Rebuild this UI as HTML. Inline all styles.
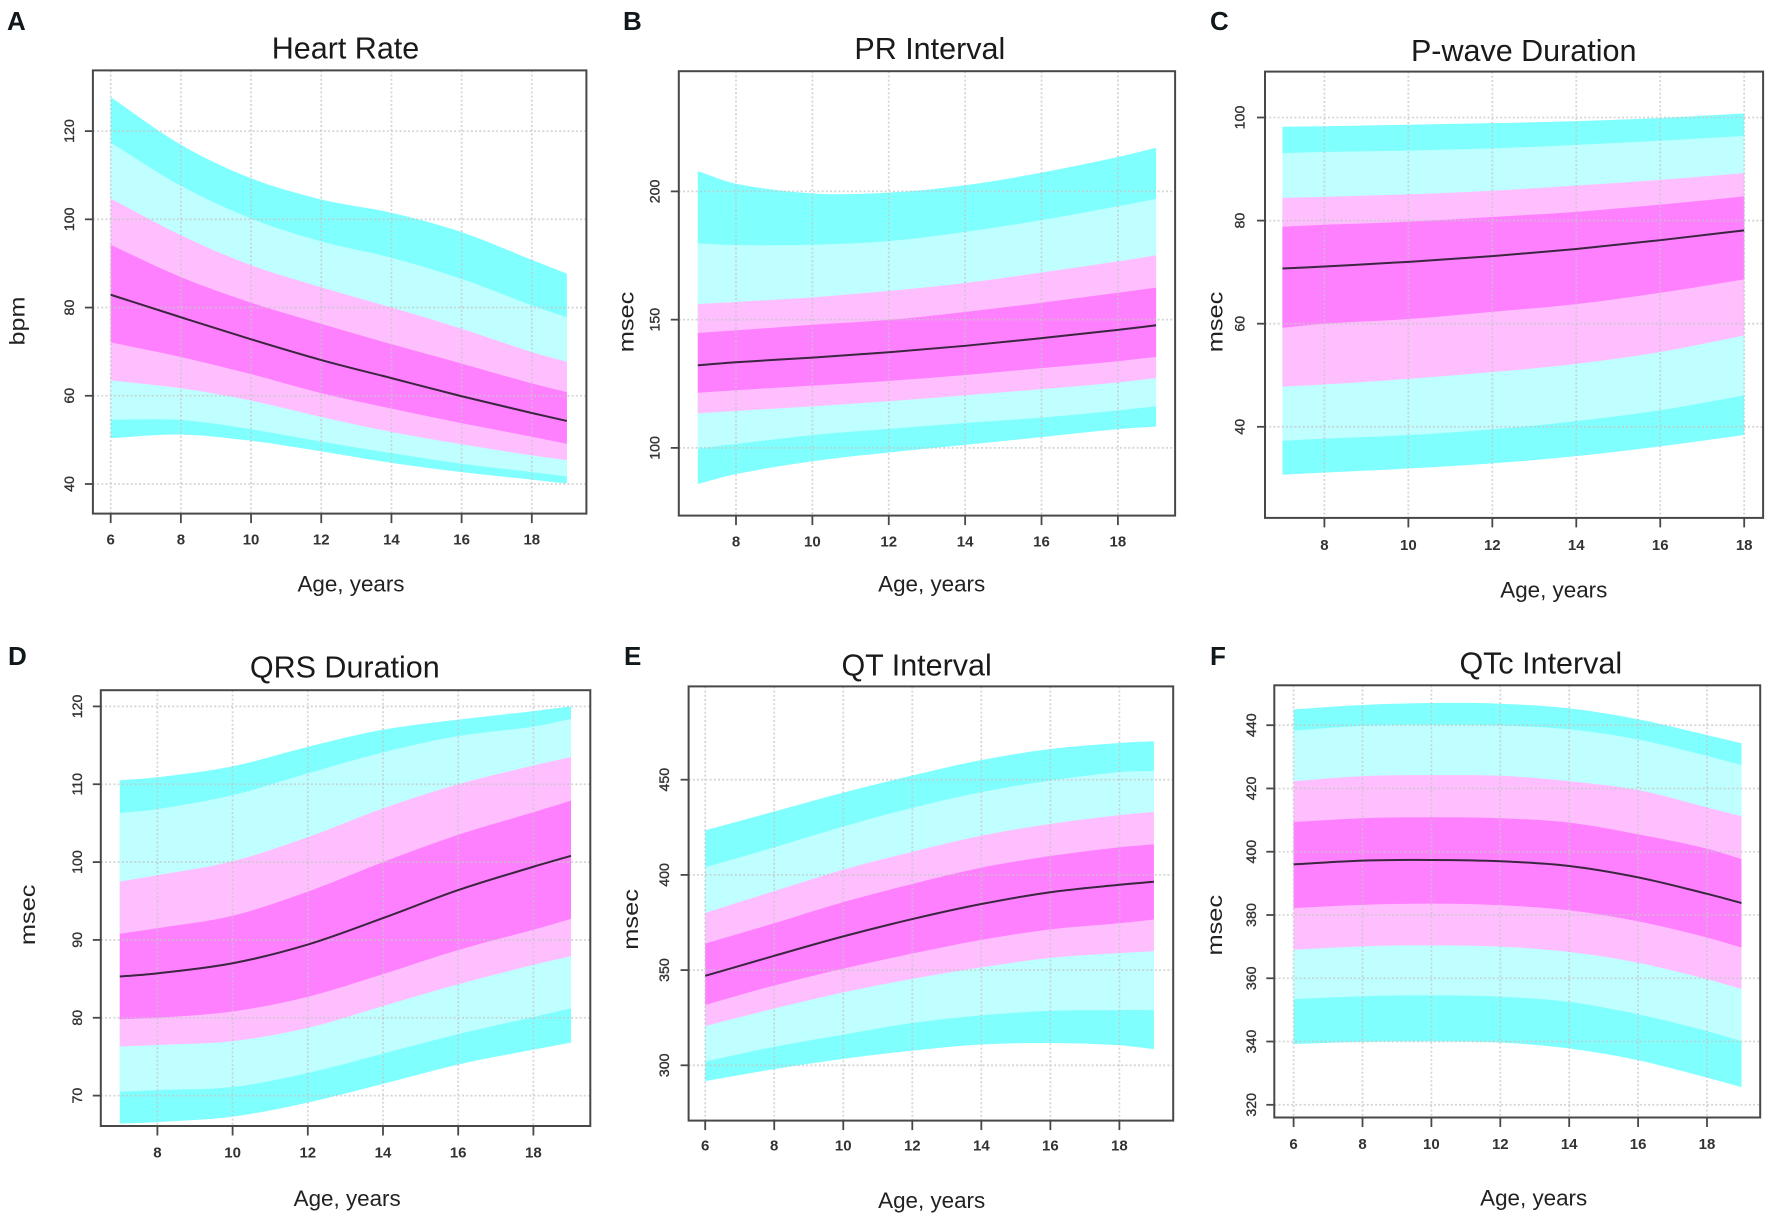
<!DOCTYPE html>
<html lang="en">
<head>
<meta charset="utf-8">
<title>Age-related ECG percentile charts</title>
<style>
html,body{margin:0;padding:0;background:#fff;}
svg{display:block;font-family:"Liberation Sans",Arial,sans-serif;}
.letter{font-size:26px;font-weight:700;fill:#10181c;}
.title{font-size:30.5px;fill:#1a1a1a;text-anchor:middle;}
.axis-title{font-size:21.5px;fill:#222;text-anchor:middle;}
.x-title{font-size:22.4px;}
.xt{font-size:15px;font-weight:700;fill:#333;text-anchor:middle;}
.yt{font-size:14.2px;fill:#333;stroke:#333;stroke-width:.35px;text-anchor:middle;}
</style>
</head>
<body>
<svg id="figure" width="1772" height="1222" viewBox="0 0 1772 1222" xmlns="http://www.w3.org/2000/svg">
  <rect width="1772" height="1222" fill="#fff"/>

  <g id="panel-a">
    <text class="letter" x="7" y="30">A</text>
    <text class="title" x="345.5" y="58.4">Heart Rate</text>
    <text class="axis-title x-title" x="351" y="591.4">Age, years</text>
    <text class="axis-title" transform="translate(24.5 321) rotate(-90) scale(1.17 1)">bpm</text>
  </g>
  <g id="panel-b">
    <text class="letter" x="623" y="30">B</text>
    <text class="title" x="929.8" y="59.1">PR Interval</text>
    <text class="axis-title x-title" x="931.7" y="591.4">Age, years</text>
    <text class="axis-title" transform="translate(633.3 322) rotate(-90) scale(1.18 1)">msec</text>
  </g>
  <g id="panel-c">
    <text class="letter" x="1210" y="30">C</text>
    <text class="title" x="1523.7" y="61.1">P-wave Duration</text>
    <text class="axis-title x-title" x="1553.8" y="597.3">Age, years</text>
    <text class="axis-title" transform="translate(1222.7 322) rotate(-90) scale(1.18 1)">msec</text>
  </g>
  <g id="panel-d">
    <text class="letter" x="8" y="665">D</text>
    <text class="title" x="344.8" y="677.6">QRS Duration</text>
    <text class="axis-title x-title" x="347.2" y="1206.2">Age, years</text>
    <text class="axis-title" transform="translate(34.8 914.8) rotate(-90) scale(1.18 1)">msec</text>
  </g>
  <g id="panel-e">
    <text class="letter" x="624" y="665">E</text>
    <text class="title" x="916.6" y="675.7">QT Interval</text>
    <text class="axis-title x-title" x="931.7" y="1208">Age, years</text>
    <text class="axis-title" transform="translate(638.2 919.4) rotate(-90) scale(1.18 1)">msec</text>
  </g>
  <g id="panel-f">
    <text class="letter" x="1210" y="665">F</text>
    <text class="title" x="1540.8" y="673.7">QTc Interval</text>
    <text class="axis-title x-title" x="1533.7" y="1205.4">Age, years</text>
    <text class="axis-title" transform="translate(1221.9 925.2) rotate(-90) scale(1.18 1)">msec</text>
  </g>
</svg>

<script>
// ---------- Heart rate ----------
const hrAges   = [6,8,10,12,14,16,18,19];
const hrXTicks = [6,8,10,12,14,16,18];
const hrYTicks = [40,60,80,100,120];
const hrTop    = [127.7,116.9,109.3,104.5,101.5,97.1,90.8,87.7];
const hrUpper2 = [117.4,107.6,100.2,95.0,91.3,86.5,80.5,77.8];
const hrUpper3 = [104.7,96.4,89.6,84.6,80.0,75.2,69.9,67.7];
const hrUpper4 = [94.2,86.9,81.1,76.3,71.7,67.3,62.8,60.8];
const hrMedian = [82.9,77.8,72.8,68.1,64.0,59.9,56.1,54.3];
const hrLower4 = [72.1,68.8,64.9,60.6,57.1,53.8,50.7,49.1];
const hrLower3 = [63.5,61.7,58.9,55.2,51.8,49.0,46.5,45.4];
const hrLower2 = [54.6,54.5,52.4,49.6,47.0,44.6,42.7,41.7];
const hrBottom = [50.4,51.2,49.8,47.4,44.8,42.7,41.0,40.1];

// ---------- PR interval ----------
const prAges   = [7,8,10,12,14,16,18,19];
const prXTicks = [8,10,12,14,16,18];
const prYTicks = [100,150,200];
const prTop    = [207.9,203.0,199.2,199.5,202.4,207.3,213.4,217.0];
const prUpper2 = [179.7,179.1,179.2,180.6,184.2,188.8,194.2,197.1];
const prUpper3 = [156.1,156.9,158.7,161.2,164.3,168.4,172.7,175.1];
const prUpper4 = [144.8,145.8,148.0,149.9,153.0,156.6,160.5,162.5];
const prMedian = [132.2,133.4,135.2,137.3,139.8,142.8,146.0,147.8];
const prLower4 = [121.5,122.5,124.3,126.1,128.4,131.1,133.8,135.5];
const prLower3 = [113.5,114.4,116.2,118.2,120.5,122.9,125.5,127.2];
const prLower2 = [99.7,101.5,105.0,107.4,109.7,111.8,114.6,116.2];
const prBottom = [85.9,89.8,94.8,98.2,101.2,104.2,107.3,108.3];

// ---------- P-wave duration ----------
const pwAges   = [7,8,10,12,14,16,18];
const pwXTicks = [8,10,12,14,16,18];
const pwYTicks = [40,60,80,100];
const pwTop    = [98.2,98.3,98.6,98.9,99.3,99.9,100.8];
const pwUpper2 = [93.1,93.3,93.6,94.0,94.7,95.5,96.4];
const pwUpper3 = [84.4,84.6,85.1,85.8,86.8,87.9,89.2];
const pwUpper4 = [78.8,79.2,79.8,80.7,81.7,83.1,84.7];
const pwMedian = [70.7,71.1,72.0,73.1,74.5,76.2,78.1];
const pwLower4 = [59.2,60.0,60.9,62.3,63.8,66.0,68.6];
const pwLower3 = [47.8,48.2,49.3,50.6,52.2,54.5,57.7];
const pwLower2 = [37.3,37.7,38.4,39.5,41.1,43.2,46.1];
const pwBottom = [30.7,31.1,31.9,32.9,34.3,36.2,38.4];

// ---------- QRS duration ----------
const qrsAges   = [7,8,10,12,14,16,18,19];
const qrsXTicks = [8,10,12,14,16,18];
const qrsYTicks = [70,80,90,100,110,120];
const qrsTop    = [110.5,110.9,112.3,114.8,117.0,118.3,119.4,120.0];
const qrsUpper2 = [106.3,106.8,108.6,111.4,114.1,116.2,117.4,118.4];
const qrsUpper3 = [97.5,98.3,100.1,103.2,106.9,110.0,112.4,113.5];
const qrsUpper4 = [90.8,91.5,93.1,96.2,100.0,103.5,106.4,107.9];
const qrsMedian = [85.3,85.7,87.0,89.4,92.8,96.4,99.4,100.8];
const qrsLower4 = [79.8,80.0,80.8,82.7,85.6,88.7,91.3,92.7];
const qrsLower3 = [76.3,76.5,77.0,78.7,81.5,84.3,86.8,87.9];
const qrsLower2 = [70.5,70.7,71.1,72.9,75.4,77.9,80.1,81.2];
const qrsBottom = [66.4,66.6,67.3,69.1,71.5,74.0,75.9,76.8];

// ---------- QT interval ----------
const qtAges   = [6,8,10,12,14,16,18,19];
const qtXTicks = [6,8,10,12,14,16,18];
const qtYTicks = [300,350,400,450];
const qtTop    = [423.4,433.3,443.2,452.2,460.3,466.1,469.3,470.2];
const qtUpper2 = [404.0,414.5,425.4,435.3,443.5,449.6,454.0,454.6];
const qtUpper3 = [380.0,391.5,402.8,412.1,420.6,426.8,431.4,433.1];
const qtUpper4 = [363.9,374.6,385.7,395.2,403.8,409.9,414.5,416.1];
const qtMedian = [347.0,357.5,367.7,376.8,384.7,390.9,394.8,396.4];
const qtLower4 = [331.7,341.9,350.8,358.7,365.9,371.4,374.6,376.6];
const qtLower3 = [320.6,329.8,338.3,345.4,351.4,356.4,358.9,359.9];
const qtLower2 = [302.0,309.7,316.1,322.2,326.2,328.6,329.0,329.0];
const qtBottom = [291.7,298.0,303.4,307.7,310.9,311.7,310.5,308.5];

// ---------- QTc interval ----------
const qtcAges   = [6,8,10,12,14,16,18,19];
const qtcXTicks = [6,8,10,12,14,16,18];
const qtcYTicks = [320,340,360,380,400,420,440];
const qtcTop    = [445.0,446.4,447.0,446.8,445.3,441.9,436.9,434.3];
const qtcUpper2 = [438.3,439.8,440.1,439.9,438.7,435.5,430.3,427.4];
const qtcUpper3 = [422.3,423.9,424.2,424.0,422.3,419.5,414.0,411.2];
const qtcUpper4 = [409.4,410.6,410.9,410.6,409.2,405.5,401.0,397.7];
const qtcMedian = [396.0,397.2,397.4,397.0,395.5,391.9,386.7,383.8];
const qtcLower4 = [382.2,383.2,383.6,383.1,381.5,378.0,372.9,369.7];
const qtcLower3 = [369.0,370.1,370.4,370.0,368.3,364.9,359.7,356.6];
const qtcLower2 = [353.4,354.3,354.6,354.2,352.5,348.6,343.3,340.1];
const qtcBottom = [339.2,339.9,340.0,339.7,337.8,334.1,328.6,325.6];

const NS = 'http://www.w3.org/2000/svg';

function make(tag, parent, attrs) {
  const el = document.createElementNS(NS, tag);
  for (const k in attrs) el.setAttribute(k, attrs[k]);
  parent.appendChild(el);
  return el;
}

function linearScale(d0, p0, d1, p1) {
  return function (v) { return p0 + (v - d0) * (p1 - p0) / (d1 - d0); };
}

// Smooth curve segments through the points, using finite-difference tangents.
function tangents(px, py) {
  const n = px.length, m = [];
  for (let i = 0; i < n; i++) {
    if (i === 0) m.push((py[1] - py[0]) / (px[1] - px[0]));
    else if (i === n - 1) m.push((py[n - 1] - py[n - 2]) / (px[n - 1] - px[n - 2]));
    else m.push((py[i + 1] - py[i - 1]) / (px[i + 1] - px[i - 1]));
  }
  return m;
}

function curveForward(px, py) {
  const m = tangents(px, py);
  let d = '';
  for (let i = 0; i < px.length - 1; i++) {
    const h = (px[i + 1] - px[i]) / 3;
    d += ' C' + (px[i] + h).toFixed(2) + ' ' + (py[i] + m[i] * h).toFixed(2) + ' ' +
         (px[i + 1] - h).toFixed(2) + ' ' + (py[i + 1] - m[i + 1] * h).toFixed(2) + ' ' +
         px[i + 1].toFixed(2) + ' ' + py[i + 1].toFixed(2);
  }
  return d;
}

function curveBackward(px, py) {
  const m = tangents(px, py);
  let d = '';
  for (let i = px.length - 1; i > 0; i--) {
    const h = (px[i] - px[i - 1]) / 3;
    d += ' C' + (px[i] - h).toFixed(2) + ' ' + (py[i] - m[i] * h).toFixed(2) + ' ' +
         (px[i - 1] + h).toFixed(2) + ' ' + (py[i - 1] + m[i - 1] * h).toFixed(2) + ' ' +
         px[i - 1].toFixed(2) + ' ' + py[i - 1].toFixed(2);
  }
  return d;
}

function bandPath(ages, upper, lower, x, y) {
  const px = ages.map(x);
  const pu = upper.map(y);
  const pl = lower.map(y);
  const last = px.length - 1;
  return 'M' + px[0].toFixed(2) + ' ' + pu[0].toFixed(2) + curveForward(px, pu) +
         ' L' + px[last].toFixed(2) + ' ' + pl[last].toFixed(2) + curveBackward(px, pl) + ' Z';
}

function linePath(ages, values, x, y) {
  const px = ages.map(x);
  const py = values.map(y);
  return 'M' + px[0].toFixed(2) + ' ' + py[0].toFixed(2) + curveForward(px, py);
}

const bandColors = ['#80ffff', '#bfffff', '#ffbfff', '#ff80ff'];
const bandNames = ['outer-band', 'second-band', 'third-band', 'central-band'];

function drawPanel(p) {
  const g = document.getElementById(p.id);
  const x = linearScale(p.xRef[0], p.xRef[1], p.xRef[2], p.xRef[3]);
  const y = linearScale(p.yRef[0], p.yRef[1], p.yRef[2], p.yRef[3]);
  const b = p.box;

  // Nested bands, outermost first
  for (let i = 0; i < 4; i++) {
    const band = make('path', g, {
      d: bandPath(p.ages, p.uppers[i], p.lowers[i], x, y),
      fill: bandColors[i]
    });
    
    
  }

  // Dotted grid above the bands
  p.xTicks.forEach(function (t) {
    const line = make('line', g, {
      x1: x(t), x2: x(t), y1: b.top, y2: b.bottom,
      stroke: '#c4c4c4', 'stroke-width': 1.8, 'stroke-dasharray': '2 2.2', 'stroke-opacity': 0.7
    });
    
    
  });
  p.yTicks.forEach(function (t) {
    const line = make('line', g, {
      x1: b.left, x2: b.right, y1: y(t), y2: y(t),
      stroke: '#c4c4c4', 'stroke-width': 1.8, 'stroke-dasharray': '2 2.2', 'stroke-opacity': 0.7
    });
    
    
  });

  // Median
  const med = make('path', g, {
    d: linePath(p.ages, p.median, x, y),
    fill: 'none', stroke: '#3b2540', 'stroke-width': 2
  });
  
  

  // Plot box
  const frame = make('rect', g, {
    x: b.left, y: b.top, width: b.right - b.left, height: b.bottom - b.top,
    fill: 'none', stroke: '#484848', 'stroke-width': 2
  });
  
  

  // X ticks and labels
  p.xTicks.forEach(function (t) {
    const tick = make('line', g, {
      x1: x(t), x2: x(t), y1: b.bottom, y2: b.bottom + 9.5,
      stroke: '#484848', 'stroke-width': 1.8
    });
    
    
    const label = make('text', g, { class: 'xt', x: x(t), y: p.xLabelY });
    
    
    label.textContent = t;
  });

  // Y ticks and rotated labels
  p.yTicks.forEach(function (t) {
    const tick = make('line', g, {
      x1: b.left - 8, x2: b.left, y1: y(t), y2: y(t),
      stroke: '#484848', 'stroke-width': 1.8
    });
    
    
    const label = make('text', g, {
      class: 'yt',
      transform: 'translate(' + p.yLabelX + ' ' + y(t) + ') rotate(-90)'
    });
    
    
    label.textContent = t;
  });
}

drawPanel({
  id: 'panel-a', key: 'heart-rate',
  ages: hrAges, xTicks: hrXTicks, yTicks: hrYTicks, median: hrMedian,
  uppers: [hrTop, hrUpper2, hrUpper3, hrUpper4],
  lowers: [hrBottom, hrLower2, hrLower3, hrLower4],
  box: { left: 92.9, right: 586.4, top: 70.4, bottom: 513.6 },
  xRef: [6, 110.7, 18, 531.8], yRef: [40, 484.0, 120, 131.1],
  xLabelY: 544.7, yLabelX: 74
});
drawPanel({
  id: 'panel-b', key: 'pr-interval',
  ages: prAges, xTicks: prXTicks, yTicks: prYTicks, median: prMedian,
  uppers: [prTop, prUpper2, prUpper3, prUpper4],
  lowers: [prBottom, prLower2, prLower3, prLower4],
  box: { left: 678.8, right: 1175.1, top: 71.2, bottom: 515.6 },
  xRef: [8, 736, 18, 1117.9], yRef: [100, 447.9, 200, 191.4],
  xLabelY: 546.7, yLabelX: 659.7
});
drawPanel({
  id: 'panel-c', key: 'p-wave-duration',
  ages: pwAges, xTicks: pwXTicks, yTicks: pwYTicks, median: pwMedian,
  uppers: [pwTop, pwUpper2, pwUpper3, pwUpper4],
  lowers: [pwBottom, pwLower2, pwLower3, pwLower4],
  box: { left: 1265, right: 1763.1, top: 71.6, bottom: 517.9 },
  xRef: [8, 1324.4, 18, 1744.2], yRef: [40, 426.8, 100, 117.5],
  xLabelY: 549.8, yLabelX: 1244.6
});
drawPanel({
  id: 'panel-d', key: 'qrs-duration',
  ages: qrsAges, xTicks: qrsXTicks, yTicks: qrsYTicks, median: qrsMedian,
  uppers: [qrsTop, qrsUpper2, qrsUpper3, qrsUpper4],
  lowers: [qrsBottom, qrsLower2, qrsLower3, qrsLower4],
  box: { left: 100.8, right: 590.3, top: 690.2, bottom: 1126 },
  xRef: [8, 157.4, 18, 533.4], yRef: [70, 1095.6, 120, 706.4],
  xLabelY: 1157.4, yLabelX: 81.9
});
drawPanel({
  id: 'panel-e', key: 'qt-interval',
  ages: qtAges, xTicks: qtXTicks, yTicks: qtYTicks, median: qtMedian,
  uppers: [qtTop, qtUpper2, qtUpper3, qtUpper4],
  lowers: [qtBottom, qtLower2, qtLower3, qtLower4],
  box: { left: 688.6, right: 1173.2, top: 686.4, bottom: 1120.6 },
  xRef: [6, 705.2, 18, 1119.4], yRef: [300, 1065.3, 450, 779.7],
  xLabelY: 1150.5, yLabelX: 669
});
drawPanel({
  id: 'panel-f', key: 'qtc-interval',
  ages: qtcAges, xTicks: qtcXTicks, yTicks: qtcYTicks, median: qtcMedian,
  uppers: [qtcTop, qtcUpper2, qtcUpper3, qtcUpper4],
  lowers: [qtcBottom, qtcLower2, qtcLower3, qtcLower4],
  box: { left: 1274.3, right: 1760.2, top: 685.3, bottom: 1117.5 },
  xRef: [6, 1293.6, 18, 1707], yRef: [320, 1104.8, 440, 725.2],
  xLabelY: 1149, yLabelX: 1256
});
</script>
</body>
</html>
